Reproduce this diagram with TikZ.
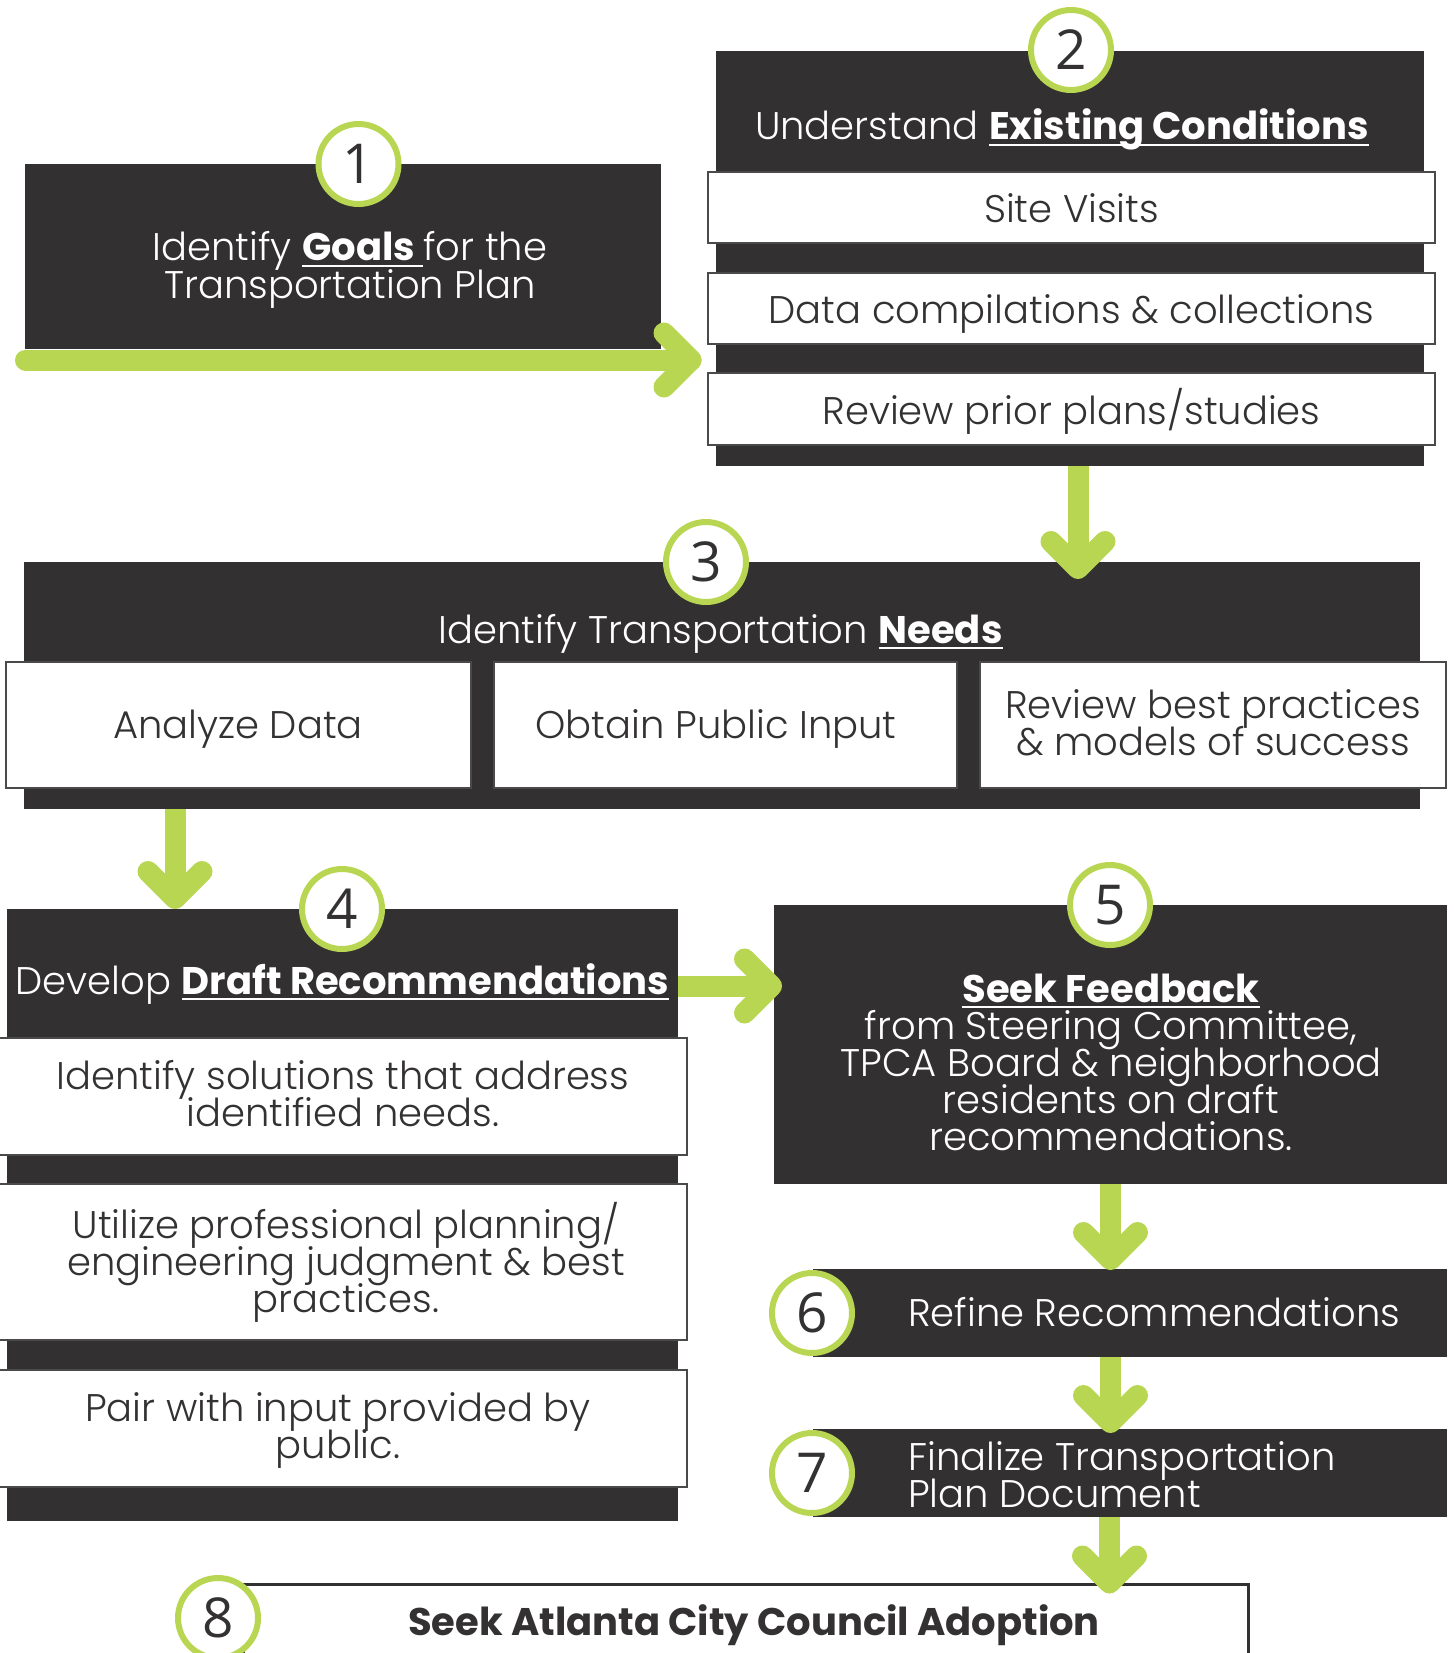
\documentclass[tikz,border=0pt]{standalone}
\usepackage{fontspec}
\setmainfont{Poppins}[UprightFont=* Light, BoldFont=* Bold]
\newfontfamily\numfont{Open Sans}
\usetikzlibrary{calc}
\definecolor{boxdark}{HTML}{323031}
\definecolor{lime}{HTML}{B8D652}
\definecolor{inkgray}{HTML}{333132}
\definecolor{edgegray}{HTML}{4A4A4A}
\newcommand{\myul}[1]{\setbox0\hbox{#1}\rlap{\rule[-6pt]{\wd0}{2pt}}\box0}
\newcommand{\bodyfont}{\fontsize{38.5}{37}\selectfont\lineskiplimit=-100pt\lineskip=0pt}
\begin{document}
\begin{tikzpicture}[x=1pt,y=-1pt,
  darkbox/.style={fill=boxdark, draw=none, inner sep=0pt, outer sep=0pt},
  whitebox/.style={fill=white, draw=edgegray, line width=2pt, inner sep=0pt, outer sep=0pt},
  numcirc/.style={circle, fill=white, draw=lime, line width=6pt, minimum size=80pt, inner sep=0pt, font=\numfont\fontsize{55}{55}\selectfont, text=inkgray},
  garrow/.style={draw=lime, line width=21pt, line cap=round, line join=round},
  gshaft/.style={draw=lime, line width=21pt, line cap=butt},
  lighttext/.style={text=white, font=\bodyfont, align=center, inner sep=0pt, anchor=base},
  darktext/.style={text=inkgray, font=\bodyfont, align=center, inner sep=0pt, anchor=base}
]
\useasboundingbox (0,0) rectangle (1453,1653);
\clip (0,0) rectangle (1453,1653);

% step 1
\node[darkbox, minimum width=636pt, minimum height=185pt] (b1) at (343,256.5) {};
% step 2
\node[darkbox, minimum width=708pt, minimum height=415pt] (b2) at (1070,258.5) {};
\node[whitebox, minimum width=727pt, minimum height=71pt] (w2a) at (1071.5,207.5) {};
\node[whitebox, minimum width=727pt, minimum height=71pt] (w2b) at (1071.5,308.5) {};
\node[whitebox, minimum width=727pt, minimum height=72pt] (w2c) at (1071.5,409) {};
% step 3
\node[darkbox, minimum width=1396pt, minimum height=247pt] (b3) at (722,685.5) {};
\node[whitebox, minimum width=465pt, minimum height=126pt] (w3a) at (238.25,725) {};
\node[whitebox, minimum width=463pt, minimum height=126pt] (w3b) at (725.5,725) {};
\node[whitebox, minimum width=466pt, minimum height=126pt] (w3c) at (1213,725) {};
% step 4
\node[darkbox, minimum width=671.5pt, minimum height=612pt] (b4) at (342.25,1215) {};
\node[whitebox, minimum width=689pt, minimum height=117pt] (w4a) at (342.5,1096.5) {};
\node[whitebox, minimum width=689pt, minimum height=156pt] (w4b) at (342.5,1262) {};
\node[whitebox, minimum width=689pt, minimum height=117pt] (w4c) at (342.5,1428.5) {};
% step 5-7
\node[darkbox, minimum width=673pt, minimum height=279pt] (b5) at (1110.5,1044.5) {};
\node[darkbox, minimum width=634pt, minimum height=88pt] (b6) at (1130,1313) {};
\node[darkbox, minimum width=634pt, minimum height=88pt] (b7) at (1130,1473) {};
% step 8
\node[fill=white, draw=boxdark, line width=3pt, inner sep=0pt, minimum width=1005pt, minimum height=96pt] (b8) at (745.5,1632) {};

% connectors
\coordinate (s1) at (25.5,360);
\coordinate (e1) at ($(s1 -| b2.west)+(-25,0)$);
\draw[garrow] (s1) -- (e1);
\draw[garrow] ($(e1)+(-27,-27)$) -- (e1) -- ($(e1)+(-27,27)$);

\coordinate (e23) at ($(b2.south |- b3.north)+(8,6.5)$);
\draw[gshaft] (b2.south -| e23) -- (e23);
\draw[garrow] ($(e23)+(-27,-27)$) -- (e23) -- ($(e23)+(27,-27)$);

\coordinate (e34) at ($(b4.north west)+(168.5,-10.5)$);
\draw[gshaft] (b3.south -| e34) -- (e34);
\draw[garrow] ($(e34)+(-27,-27)$) -- (e34) -- ($(e34)+(27,-27)$);

\coordinate (e45) at ($(b5.west |- b4.north)+(-2.5,77)$);
\draw[gshaft] (b4.east |- e45) -- (e45);
\draw[garrow] ($(e45)+(-27,-27)$) -- (e45) -- ($(e45)+(-27,27)$);

\coordinate (e56) at ($(b5.south |- b6.north)+(0,-9.5)$);
\draw[gshaft] (b5.south) -- (e56);
\draw[garrow] ($(e56)+(-27,-27)$) -- (e56) -- ($(e56)+(27,-27)$);

\coordinate (e67) at ($(b5.south |- b7.north)+(0,-6.5)$);
\draw[gshaft] (b6.south -| e67) -- (e67);
\draw[garrow] ($(e67)+(-27,-27)$) -- (e67) -- ($(e67)+(27,-27)$);

\coordinate (e78) at ($(b5.south |- b8.north)+(-1,0.5)$);
\draw[gshaft] (b7.south -| e78) -- (e78);
\draw[garrow] ($(e78)+(-27,-27)$) -- (e78) -- ($(e78)+(27,-27)$);

% number circles
\node[numcirc] (c1) at (358.5,164) {1};
\node[numcirc] (c2) at (1071,50) {2};
\node[numcirc] (c3) at (706,562) {3};
\node[numcirc] (c4) at (342,909) {4};
\node[numcirc] (c5) at (1110,905) {5};
\node[numcirc] (c6) at (812,1313) {6};
\node[numcirc] (c7) at (812,1473) {7};
\node[numcirc] (c8) at (218,1618) {8};

% texts (multi-line nodes: base = last line)
\node[lighttext] (t1) at (350,298) {Identify \myul{\bfseries Goals\ }for the\\Transportation Plan};
\node[lighttext] (t2) at (1062,140) {Understand \myul{\bfseries Existing Conditions}};
\node[darktext] (tw2a) at (1071.5,223) {Site Visits};
\node[darktext] (tw2b) at (1071.5,323) {Data compilations \& collections};
\node[darktext] (tw2c) at (1071.5,424) {Review prior plans/studies};
\node[lighttext] (t3) at (720.5,643) {Identify Transportation \myul{\bfseries Needs}};
\node[darktext] (tw3a) at (238,738) {Analyze Data};
\node[darktext] (tw3b) at (716,738) {Obtain Public Input};
\node[darktext] (tw3c) at (1213,755) {Review best practices\\\& models of success};
\node[lighttext] (t4) at (342.5,994) {Develop \myul{\bfseries Draft Recommendations}};
\node[darktext] (tw4a) at (343,1126) {Identify solutions that address\\identified needs.};
\node[darktext] (tw4b) at (346,1312) {Utilize professional planning/\\engineering judgment \& best\\practices.};
\node[darktext] (tw4c) at (338,1458) {Pair with input provided by\\public.};
\node[lighttext] (t5) at (1111,1150) {\myul{\bfseries Seek Feedback}\\from Steering Committee,\\TPCA Board \& neighborhood\\residents on draft\\recommendations.};
\node[lighttext, anchor=base west, align=left] (t6) at (908,1326) {Refine Recommendations};
\node[lighttext, anchor=base west, align=left] (t7) at (908,1507) {Finalize Transportation\\Plan Document};
\node[darktext] (t8) at (754,1635) {\bfseries Seek Atlanta City Council Adoption};
\end{tikzpicture}
\end{document}
